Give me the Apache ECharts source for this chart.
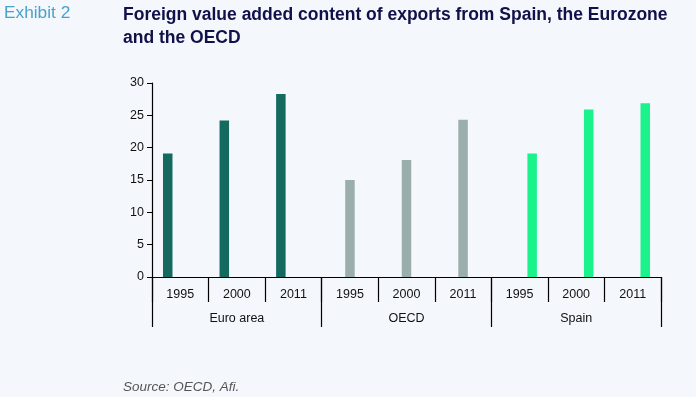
<!DOCTYPE html>
<html><head><meta charset="utf-8">
<script src="https://cdn.jsdelivr.net/npm/echarts@6/dist/echarts.min.js"></script>
<style>html,body{margin:0;padding:0;background:#f4f7fb}#c{width:696px;height:397px}</style>
</head><body><div id="c"></div>
<script>
const years = ['1995','2000','2011','1995','2000','2011','1995','2000','2011'];
const groups = ['Euro area','OECD','Spain'];
const euroArea = [19.1, 24.2, 28.3];
const oecd = [15.0, 18.1, 24.3];
const spain = [19.1, 25.9, 26.85];
const yTicks = {min:0, max:30, interval:5};

function place(vals, g){ const a = new Array(9).fill(null); vals.forEach((v,i)=>a[g*3+i]=v); return a; }

const chart = echarts.init(document.getElementById('c'), null, {renderer:'canvas'});
const font = '"Liberation Sans", Arial, sans-serif';
chart.setOption({
  backgroundColor:'#f4f7fb',
  animation:false,
  textStyle:{fontFamily:font},
  title:[
    {text:'Exhibit 2', left:4, top:5, padding:0, textStyle:{fontFamily:font, fontSize:17.3, fontWeight:'normal', color:'#4aa2cc'}},
    {text:'Foreign value added content of exports from Spain, the Eurozone\nand the OECD', left:123, top:4, padding:0,
     textStyle:{fontFamily:font, fontSize:17.5, fontWeight:'bold', color:'#10104a', lineHeight:23}},
    {text:'Source: OECD, Afi.', left:123, top:380, padding:0, textStyle:{fontFamily:font, fontSize:13.5, fontStyle:'italic', fontWeight:'normal', color:'#555'}}
  ],
  grid:{left:152, right:35, top:83, bottom:120},
  xAxis:[
    {type:'category', data:years, position:'bottom',
     axisLine:{lineStyle:{color:'#000', width:1.2}},
     axisTick:{show:true, interval:0, length:25, lineStyle:{color:'#000', width:1.2}},
     axisLabel:{interval:0, margin:11, fontSize:12.5, color:'#111', fontFamily:font}},
    {type:'category', data:groups, position:'bottom',
     axisLine:{show:false},
     axisTick:{show:true, interval:0, length:50, lineStyle:{color:'#000', width:1.2}},
     axisLabel:{interval:0, margin:35, fontSize:12.5, color:'#111', fontFamily:font}}
  ],
  yAxis:{type:'value', min:yTicks.min, max:yTicks.max, interval:yTicks.interval,
    axisLine:{show:true, lineStyle:{color:'#000', width:1.2}},
    axisTick:{show:true, length:5, lineStyle:{color:'#000'}},
    splitLine:{show:false},
    axisLabel:{fontSize:12.5, color:'#111', margin:8, fontFamily:font}},
  series:[
    {name:'Euro area', type:'bar', data:place(euroArea,0), barWidth:9.5, barGap:'32%', itemStyle:{color:'#146a5f'}},
    {name:'OECD', type:'bar', data:place(oecd,1), barWidth:9.5, barGap:'32%', itemStyle:{color:'#9aaeab'}},
    {name:'Spain', type:'bar', data:place(spain,2), barWidth:9.5, barGap:'32%', itemStyle:{color:'#1af28b'}}
  ]
});
</script></body></html>
